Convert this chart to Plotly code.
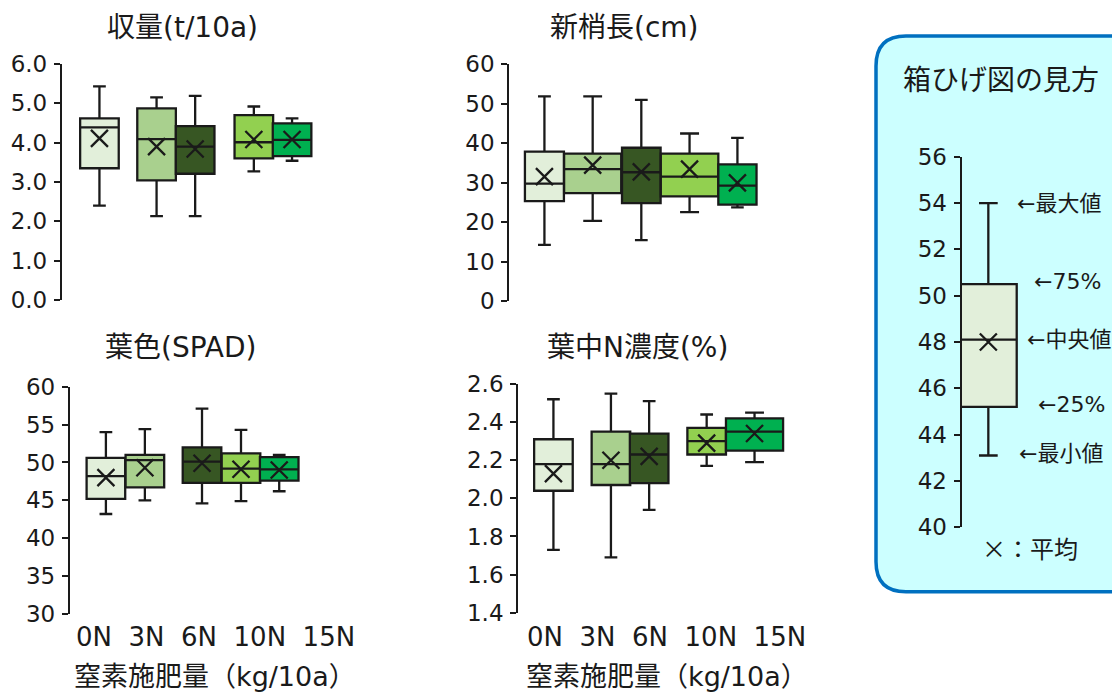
import plotly.graph_objects as go

# ---------------- data ----------------
categories = ["0N", "3N", "6N", "10N", "15N"]
colors = ["#E2EFDA", "#A9D08E", "#375623", "#92D050", "#00B050"]

# 収量 (t/10a)
yield_max = [5.43, 5.15, 5.19, 4.92, 4.62]
yield_q3 = [4.62, 4.87, 4.42, 4.70, 4.49]
yield_median = [4.39, 4.09, 3.90, 4.01, 4.07]
yield_q1 = [3.35, 3.04, 3.21, 3.60, 3.66]
yield_min = [2.40, 2.13, 2.13, 3.27, 3.54]
yield_mean = [4.11, 3.90, 3.84, 4.08, 4.08]
yield_slot = [0.97, 2.45, 3.45, 4.97, 5.96]
yield_width = [1.0, 1.0, 1.0, 1.0, 1.0]

# 新梢長 (cm)
shoot_max = [51.8, 51.8, 50.9, 42.4, 41.3]
shoot_q3 = [37.8, 37.3, 38.8, 37.3, 34.6]
shoot_median = [29.7, 33.4, 32.6, 31.5, 29.2]
shoot_q1 = [25.3, 27.3, 24.8, 26.5, 24.4]
shoot_min = [14.2, 20.3, 15.4, 22.5, 23.7]
shoot_mean = [31.5, 34.4, 32.7, 33.4, 29.9]
shoot_slot = [0.91, 2.16, 3.42, 4.67, 5.91]
shoot_width = [1.01, 1.48, 1.0, 1.49, 0.99]

# 葉色 (SPAD)
spad_max = [54.0, 54.4, 57.1, 54.3, 51.0]
spad_q3 = [50.6, 51.0, 52.0, 51.2, 50.7]
spad_median = [48.2, 50.3, 50.1, 49.2, 49.1]
spad_q1 = [45.2, 46.7, 47.3, 47.3, 47.6]
spad_min = [43.2, 45.0, 44.6, 44.9, 46.2]
spad_mean = [48.0, 49.3, 49.9, 49.1, 49.0]
spad_slot = [0.93, 1.94, 3.42, 4.43, 5.42]
spad_width = [1.0, 1.0, 1.0, 1.0, 1.0]

# 葉中N濃度 (%)
leafn_max = [2.52, 2.55, 2.51, 2.44, 2.45]
leafn_q3 = [2.31, 2.35, 2.34, 2.37, 2.42]
leafn_median = [2.18, 2.18, 2.23, 2.30, 2.35]
leafn_q1 = [2.04, 2.07, 2.08, 2.23, 2.25]
leafn_min = [1.73, 1.69, 1.94, 2.17, 2.19]
leafn_mean = [2.13, 2.20, 2.22, 2.29, 2.34]
leafn_slot = [0.91, 2.40, 3.39, 4.88, 6.12]
leafn_width = [1.0, 1.0, 1.0, 1.0, 1.48]

# 箱ひげ図の見方 (example)
guide_max = [54.0]
guide_q3 = [50.5]
guide_median = [48.1]
guide_q1 = [45.2]
guide_min = [43.1]
guide_mean = [48.0]
guide_slot = [0.69]
guide_width = [1.47]
guide_labels = ["←最大値", "←75%", "←中央値", "←25%", "←最小値"]
guide_label_values = [54.0, 50.6, 48.1, 45.3, 43.2]

titles = ["収量(t/10a)", "新梢長(cm)", "葉色(SPAD)", "葉中N濃度(%)"]
xlabel = "窒素施肥量（kg/10a）"

# ---------------- layout helpers ----------------
W, H = 1112, 695
FONT = "DejaVu Sans, Noto Sans CJK JP"
INK = "#1a1a1a"
UNIT = 38.6  # px per slot unit
LW = 2.3


def px(x):
    return x / W


def py(y):
    return 1 - y / H


fig = go.Figure()

panels = [
    dict(ax="", mx=yield_max, q3=yield_q3, md=yield_median, q1=yield_q1, mn=yield_min,
         mean=yield_mean, slot=yield_slot, w=yield_width,
         xpx=62, ytop=64, ybot=300, rng=[0, 6], dtick=1, fmt=".1f"),
    dict(ax="2", mx=shoot_max, q3=shoot_q3, md=shoot_median, q1=shoot_q1, mn=shoot_min,
         mean=shoot_mean, slot=shoot_slot, w=shoot_width,
         xpx=509.3, ytop=64, ybot=301, rng=[0, 60], dtick=10, fmt="d"),
    dict(ax="3", mx=spad_max, q3=spad_q3, md=spad_median, q1=spad_q1, mn=spad_min,
         mean=spad_mean, slot=spad_slot, w=spad_width,
         xpx=70, ytop=386.7, ybot=614, rng=[30, 60], dtick=5, fmt="d"),
    dict(ax="4", mx=leafn_max, q3=leafn_q3, md=leafn_median, q1=leafn_q1, mn=leafn_min,
         mean=leafn_mean, slot=leafn_slot, w=leafn_width,
         xpx=518.3, ytop=384, ybot=612.7, rng=[1.4, 2.6], dtick=0.2, fmt=".1f"),
]

layout_axes = {}
for p in panels:
    xa = "x" + p["ax"]
    ya = "y" + p["ax"]
    for i, cat in enumerate(categories):
        fig.add_trace(go.Box(
            x=[p["slot"][i]], q1=[p["q1"][i]], median=[p["md"][i]], q3=[p["q3"][i]],
            lowerfence=[p["mn"][i]], upperfence=[p["mx"][i]],
            width=p["w"][i], fillcolor=colors[i],
            line=dict(color=INK, width=LW), whiskerwidth=0.33,
            boxpoints=False, name=cat, showlegend=False,
            xaxis=xa, yaxis=ya))
    fig.add_trace(go.Scatter(
        x=p["slot"], y=p["mean"], mode="markers",
        marker=dict(symbol="x-thin", size=17, color=INK, line=dict(width=LW, color=INK)),
        showlegend=False, xaxis=xa, yaxis=ya))
    x0 = p["xpx"]
    layout_axes["xaxis" + p["ax"]] = dict(
        domain=[px(x0), px(x0 + 7 * UNIT)], range=[0, 7], visible=False,
        anchor=ya, fixedrange=True, automargin=False)
    layout_axes["yaxis" + p["ax"]] = dict(
        domain=[py(p["ybot"]), py(p["ytop"])], range=p["rng"], dtick=p["dtick"],
        tick0=p["rng"][0], tickformat=p["fmt"], anchor=xa, automargin=False,
        showline=True, linecolor=INK, linewidth=LW, ticks="outside", ticklen=6,
        tickwidth=LW, tickcolor=INK, showgrid=False, zeroline=False,
        tickfont=dict(family=FONT, size=23, color=INK), ticklabelstandoff=2)

# guide (legend) box plot
fig.add_trace(go.Box(
    x=guide_slot, q1=guide_q1, median=guide_median, q3=guide_q3,
    lowerfence=guide_min, upperfence=guide_max, width=guide_width[0],
    fillcolor="#E2EFDA", line=dict(color=INK, width=LW), whiskerwidth=0.33,
    boxpoints=False, showlegend=False, xaxis="x5", yaxis="y5"))
fig.add_trace(go.Scatter(
    x=guide_slot, y=guide_mean, mode="markers",
    marker=dict(symbol="x-thin", size=17, color=INK, line=dict(width=LW, color=INK)),
    showlegend=False, xaxis="x5", yaxis="y5"))
gx0 = 961.7
layout_axes["xaxis5"] = dict(domain=[px(gx0), 1.0], range=[0, (W - gx0) / UNIT],
                             visible=False, anchor="y5", fixedrange=True,
                             automargin=False)
layout_axes["yaxis5"] = dict(
    domain=[py(527.3), py(156.7)], range=[40, 56], dtick=2, tick0=40, anchor="x5",
    automargin=False,
    showline=True, linecolor=INK, linewidth=LW, ticks="outside", ticklen=6,
    tickwidth=LW, tickcolor=INK, showgrid=False, zeroline=False,
    tickfont=dict(family=FONT, size=23, color=INK), ticklabelstandoff=2)

# guide labels placed at data values on guide axis
guide_label_x = [1015, 1032, 1025, 1036, 1017]
annotations = []
for lab, val, lx in zip(guide_labels, guide_label_values, guide_label_x):
    annotations.append(dict(
        text=lab, x=px(lx), xref="paper", y=val, yref="y5", xanchor="left",
        yanchor="middle", showarrow=False,
        font=dict(family=FONT, size=22, color=INK)))
annotations.append(dict(text="×：平均", x=px(980), y=py(547), xref="paper", yref="paper",
                        xanchor="left", yanchor="middle", showarrow=False,
                        font=dict(family="Noto Sans CJK JP", size=24, color=INK)))
annotations.append(dict(text="箱ひげ図の見方", x=px(1001), y=py(78), xref="paper",
                        yref="paper", xanchor="center", yanchor="middle", showarrow=False,
                        font=dict(family="Noto Sans CJK JP", size=28, color=INK)))

# panel titles
title_pos = [(182.5, 27), (625, 27), (180, 348), (637.5, 347)]
for t, (tx, ty) in zip(titles, title_pos):
    annotations.append(dict(text=t, x=px(tx), y=py(ty), xref="paper", yref="paper",
                            xanchor="center", yanchor="middle", showarrow=False,
                            font=dict(family=FONT, size=28, color=INK)))

# category labels and x axis titles under bottom panels
for cx in (215, 666.5):
    annotations.append(dict(text="\u00a0\u00a0".join(categories), x=px(cx), y=py(637),
                            xref="paper", yref="paper", xanchor="center",
                            yanchor="middle", showarrow=False,
                            font=dict(family=FONT, size=26, color=INK)))
    annotations.append(dict(text=xlabel, x=px(cx), y=py(676), xref="paper",
                            yref="paper", xanchor="center", yanchor="middle",
                            showarrow=False,
                            font=dict(family=FONT, size=27, color=INK)))

# rounded background for the guide
bx0, bx1 = px(876), px(1150)
by0, by1 = py(591.7), py(36)
rx, ry = 30 / W, 30 / H
path = (f"M {bx0+rx},{by1} L {bx1-rx},{by1} Q {bx1},{by1} {bx1},{by1-ry} "
        f"L {bx1},{by0+ry} Q {bx1},{by0} {bx1-rx},{by0} L {bx0+rx},{by0} "
        f"Q {bx0},{by0} {bx0},{by0+ry} L {bx0},{by1-ry} Q {bx0},{by1} {bx0+rx},{by1} Z")
shapes = [dict(type="path", path=path, xref="paper", yref="paper",
               fillcolor="#CCFFFF", line=dict(color="#0070C0", width=3.5), layer="below")]

fig.update_layout(
    width=W, height=H, autosize=False, margin=dict(l=0, r=0, t=0, b=0, pad=0),
    paper_bgcolor="white", plot_bgcolor="rgba(0,0,0,0)",
    boxmode="overlay", showlegend=False,
    annotations=annotations, shapes=shapes,
    font=dict(family=FONT, color=INK),
    **layout_axes)

fig.write_html("out.html", config={"displayModeBar": False, "responsive": False},
               post_script="document.body.style.margin='0';")
